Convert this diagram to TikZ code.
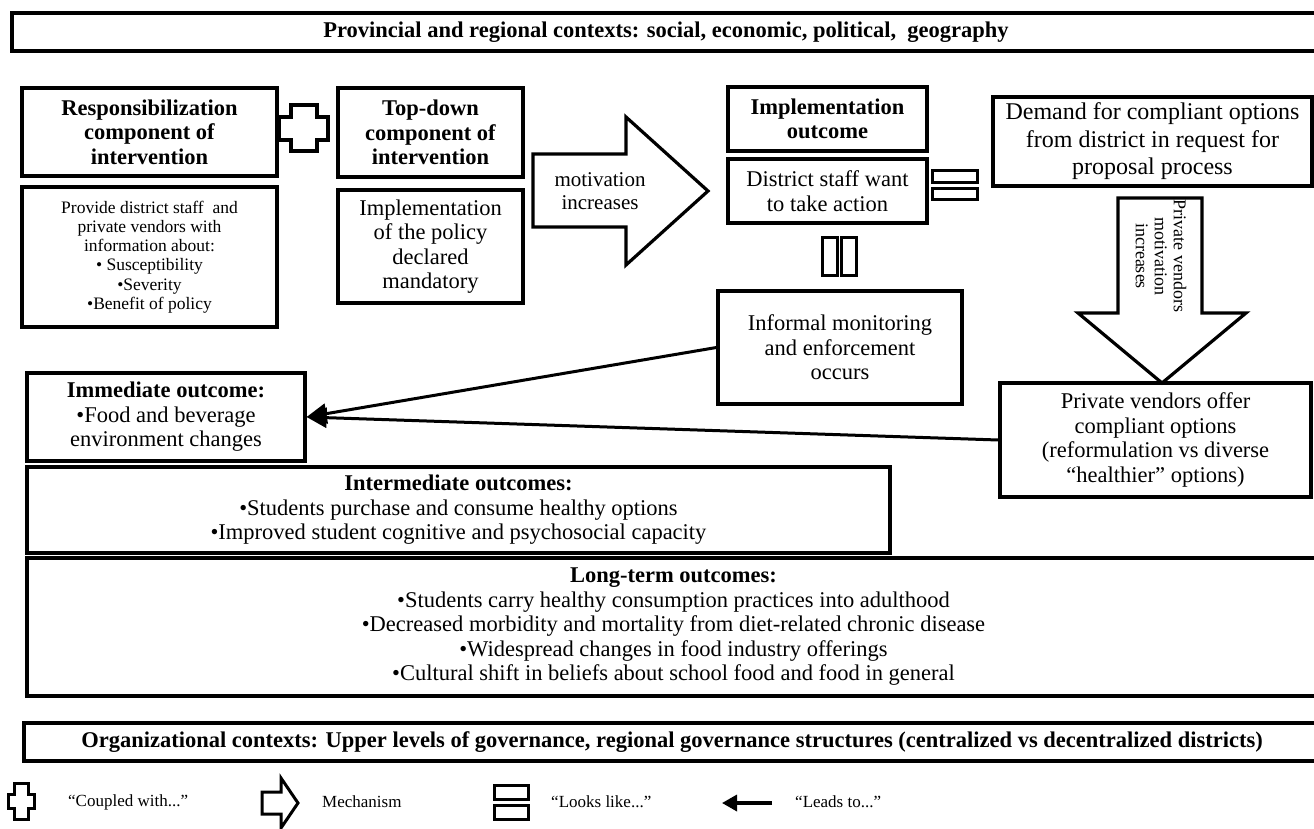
\documentclass[tikz,border=0pt]{standalone}
\usepackage{fontspec}
\setmainfont{Liberation Serif}
\usetikzlibrary{arrows.meta}
\newcommand{\fsz}[2]{\fontsize{#1}{#2}\selectfont}
\begin{document}
\begin{tikzpicture}[x=1pt,y=-1pt,
  box/.style={draw, line width=3.2pt, rectangle, inner sep=0pt, align=center, font=\fsz{22.5}{24.5}},
  shapeline/.style={draw, line width=3.2pt, line join=miter},
  iconline/.style={draw, line width=3pt, line join=miter},
  leads/.style={line width=3pt, -{Triangle[length=20pt,width=20pt]}},
  lbl/.style={inner sep=0pt, align=center},
  legendtext/.style={inner sep=0pt, anchor=west, font=\fsz{17}{19}},
]
\fill[white] (0,0) rectangle (1314,828);
\useasboundingbox (0,0) rectangle (1314,828);

% context boxes
\node[box, minimum width=1308pt, minimum height=38pt] (ctx1) at (666,32)
  {\textbf{Provincial and regional contexts: social, economic, political,\ \ geography}};
\node[box, minimum width=1296pt, minimum height=38pt] (ctx2) at (672,742)
  {\textbf{Organizational contexts: Upper levels of governance, regional governance structures (centralized vs decentralized districts)}};

% intervention components
\node[box, minimum width=255pt, minimum height=88pt] (resp) at (149.5,132)
  {\textbf{Responsibilization}\\\textbf{component of}\\\textbf{intervention}};
\node[box, minimum width=255pt, minimum height=140pt, font=\fsz{17.5}{19.3}] (provide) at (149.5,257)
  {Provide district staff\ \ and\\private vendors with\\information about:\\• Susceptibility\\•Severity\\•Benefit of policy};
\node[box, minimum width=185pt, minimum height=89pt] (topdown) at (430.5,132.5)
  {\textbf{Top-down}\\\textbf{component of}\\\textbf{intervention}};
\node[box, minimum width=185pt, minimum height=113pt] (impl) at (430.5,246.5)
  {Implementation\\of the policy\\declared\\mandatory};

% coupled-with cross
\path[shapeline] (291,105) -- (317,105) -- (317,117) -- (328,117) -- (328,140) -- (317,140)
  -- (317,151) -- (291,151) -- (291,140) -- (279,140) -- (279,117) -- (291,117) -- cycle;

% mechanism arrow
\path[shapeline] (533,154) -- (626,154) -- (626,117) -- (708,191) -- (626,265) -- (626,227) -- (533,227) -- cycle;
\node[lbl, font=\fsz{21}{23}] (motiv) at (600,191) {motivation\\increases};

% implementation outcome
\node[box, minimum width=199pt, minimum height=64pt] (implout) at (827.5,119)
  {\textbf{Implementation}\\\textbf{outcome}};
\node[box, minimum width=199pt, minimum height=64pt] (district) at (827.5,191)
  {District staff want\\to take action};

% looks-like signs
\path[iconline] (932,170) rectangle (977,182);
\path[iconline] (932,188) rectangle (977,199);
\path[iconline] (822,237) rectangle (837,275);
\path[iconline] (841,237) rectangle (856,275);

\node[box, minimum width=244pt, minimum height=113pt] (informal) at (840,347.5)
  {Informal monitoring\\and enforcement\\occurs};

% demand and vendors
\node[box, minimum width=319pt, minimum height=89pt, font=\fsz{24}{27.5}] (demand) at (1152.5,141.5)
  {Demand for compliant options\\from district in request for\\proposal process};
\path[shapeline] (1118,198) -- (1202,198) -- (1202,313) -- (1246,313) -- (1162,383) -- (1078,313) -- (1118,313) -- cycle;
\node[lbl, rotate=-90, font=\fsz{18}{19}] (pvm) at (1161,256) {Private vendors\\motivation\\increases};
\node[box, minimum width=311pt, minimum height=114pt] (vendors) at (1155.5,440)
  {Private vendors offer\\compliant options\\(reformulation vs diverse\\“healthier” options)};

% outcomes
\node[box, minimum width=278pt, minimum height=88pt] (immediate) at (166,417)
  {\textbf{Immediate outcome:}\\•Food and beverage\\environment changes};
\node[box, minimum width=863pt, minimum height=86pt] (intermediate) at (458.5,510)
  {\textbf{Intermediate outcomes:}\\•Students purchase and consume healthy options\\•Improved student cognitive and psychosocial capacity};
\node[box, minimum width=1293pt, minimum height=138pt] (longterm) at (673.5,627)
  {\textbf{Long-term outcomes:}\\•Students carry healthy consumption practices into adulthood\\•Decreased morbidity and mortality from diet-related chronic disease\\•Widespread changes in food industry offerings\\•Cultural shift in beliefs about school food and food in general};

% leads-to connectors
\draw[leads] (informal.west) -- (immediate.east);
\draw[leads] (vendors.west) -- (immediate.east);

% legend
\path[iconline] (14,783) -- (28,783) -- (28,794) -- (34,794) -- (34,808) -- (28,808) -- (28,819)
  -- (14,819) -- (14,808) -- (8,808) -- (8,794) -- (14,794) -- cycle;
\node[legendtext] (lg1) at (68,802) {“Coupled with...”};
\path[iconline] (262,792) -- (281,792) -- (281,778) -- (298,803) -- (281,828) -- (281,814) -- (262,814) -- cycle;
\node[legendtext] (lg2) at (322,802) {Mechanism};
\path[iconline] (494,785) rectangle (528,799);
\path[iconline] (494,805) rectangle (528,819);
\node[legendtext] (lg3) at (551,802) {“Looks like...”};
\coordinate (lfrom) at (772,803);
\coordinate (lto) at (722,803);
\draw[line width=3.4pt, -{Triangle[length=15pt,width=16pt]}] (lfrom) -- (lto);
\node[legendtext] (lg4) at (795,802) {“Leads to...”};
\end{tikzpicture}
\end{document}
